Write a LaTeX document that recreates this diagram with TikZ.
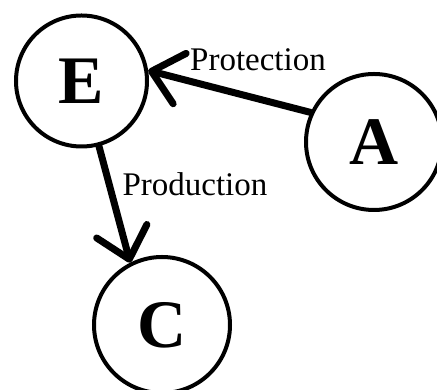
\documentclass[tikz,border=0pt]{standalone}
\usepackage{fontspec}
\setmainfont{Liberation Serif}
\usetikzlibrary{arrows.meta}
\begin{document}
\begin{tikzpicture}[x=1pt,y=1pt,
  state/.style={circle,draw,line width=4pt,inner sep=0pt,
    font=\fontsize{68}{68}\selectfont\bfseries},
  lbl/.style={inner sep=0pt,font=\fontsize{33}{33}\selectfont},
  conn/.style={line width=7pt,line cap=round,
    -{Straight Barb[length=29pt,width=52pt,round]}}]
\useasboundingbox (0,0) rectangle (437,390);
\node[state,minimum size=131pt] (E) at (81.5,309) {E};
\node[state,minimum size=136pt] (A) at (374,248) {A};
\node[state,minimum size=136pt] (C) at (162,65) {C};
\draw[conn] (A.155) -- (E.9);
\draw[conn] (E.-75) -- (C.117);
\node[lbl] (p1) at (258,330) {Protection};
\node[lbl] (p2) at (195,206) {Production};
\end{tikzpicture}
\end{document}
